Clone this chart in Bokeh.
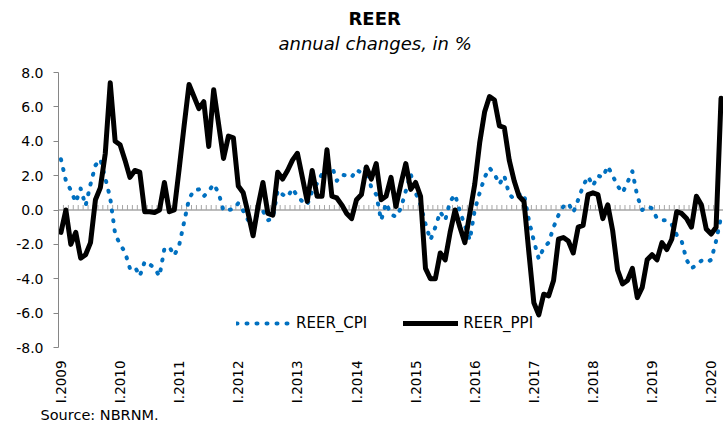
import math
from bokeh.plotting import figure
from bokeh.models import (Range1d, FixedTicker, PrintfTickFormatter, Span, Title,
                          Legend, LegendItem)
from bokeh.embed import file_html
from bokeh.resources import INLINE

# ---- data (monthly, I.2009 ... III.2020) ----
years = list(range(2009, 2021))
tick_labels = ["I." + str(y) for y in years]
y_ticks = [-8, -6, -4, -2, 0, 2, 4, 6, 8]

reer_cpi = [
    2.95, 1.7, 1.15, 0.45, 1.25, 0.25, 1.5, 2.6, 2.95, 1.85, 0.7, -1.4,
    -2.0, -2.45, -3.4, -3.3, -3.85, -3.0, -3.15, -3.4, -3.85, -2.25, -2.15, -2.65,
    -2.05, -0.7, 0.65, 1.15, 1.2, 0.8, 1.1, 1.5, 1.0, -0.05, 0.0, 0.05,
    0.4, -0.05, -0.6, -0.5, -0.3, -0.05, -0.6, -0.5, 1.15, 0.9, 0.75, 1.25,
    0.8, 0.5, 0.3, 1.1, 1.55, 2.1, 2.3, 2.55, 1.7, 2.05, 2.0, 1.9,
    2.35, 2.15, 2.5, 1.3, 0.9, -0.6, 0.4, -0.25, -0.4, 0.1, 1.1, 2.1,
    1.0, 0.3, -0.8, -1.75, -1.0, -0.1, -0.6, 0.5, 0.9, -0.1, -0.9, -1.75,
    0.0, 1.0, 1.9, 2.45, 2.1, 1.5, 2.0, 0.9, 0.65, 0.9, 0.95, -0.6,
    -1.8, -2.85, -2.2, -1.9, -1.0, -0.3, 0.2, 0.4, -0.15, 0.6, 1.4, 1.95,
    1.4, 2.0, 1.9, 2.55, 2.0, 1.4, 1.0, 1.6, 2.25, 0.8, 0.0, 0.2,
    0.1, -0.5, -0.6, -0.6, -0.85, -1.45, -1.8, -2.9, -3.4, -3.2, -2.95, -3.05,
    -2.9, -1.8, -0.4,
]

reer_ppi = [
    -1.3, 0.0, -2.0, -1.3, -2.8, -2.6, -1.9, 0.6, 1.3, 3.3, 7.4, 4.0,
    3.8, 2.9, 1.9, 2.3, 2.2, -0.1, -0.1, -0.15, 0.0, 1.6, -0.1, 0.0,
    2.4, 4.9, 7.3, 6.6, 5.9, 6.3, 3.7, 7.0, 5.0, 3.0, 4.3, 4.2,
    1.4, 1.0, -0.2, -1.5, 0.2, 1.6, -0.2, -0.3, 2.2, 1.8, 2.3, 2.9,
    3.3, 1.9, 0.5, 2.3, 0.8, 0.8, 3.5, 0.8, 0.7, 0.3, -0.2, -0.5,
    0.6, 0.9, 2.5, 1.8, 2.7, 0.6, 0.8, 1.9, 0.2, 1.5, 2.7, 1.2,
    1.6, 0.8, -3.4, -4.0, -4.0, -2.5, -2.9, -1.3, 0.0, -1.0, -1.9, -0.2,
    1.5, 3.9, 5.7, 6.6, 6.4, 4.9, 4.8, 2.9, 1.7, 0.8, 0.5, -2.5,
    -5.4, -6.1, -4.9, -5.0, -4.1, -1.7, -1.6, -1.8, -2.5, -1.0, -0.9, 0.9,
    1.0, 0.9, -0.5, 0.3, -1.2, -3.5, -4.3, -4.1, -3.4, -5.1, -4.5, -2.9,
    -2.6, -2.9, -1.9, -2.3, -1.7, -0.1, -0.2, -0.5, -1.0, 0.8, 0.3, -1.1,
    -1.4, -1.0, 6.5,
]

n = len(reer_ppi)
month_idx = list(range(n))
tick_pos = [12 * k for k in range(len(years))]
boundaries = [i + 0.5 for i in month_idx[:-1]]

FONT = "DejaVu Sans"

p = figure(width=723, height=424, output_backend="svg", toolbar_location=None,
           title=None,
           x_range=Range1d(-0.5, n - 0.5), y_range=Range1d(y_ticks[0], y_ticks[-1]),
           min_border_left=58, min_border_right=0, min_border_top=72, min_border_bottom=76)
p.outline_line_color = None
p.xgrid.grid_line_color = None
p.ygrid.grid_line_color = None
p.background_fill_color = "white"
p.border_fill_color = "white"

# zero line with monthly tick marks
p.add_layout(Span(location=0, dimension="width", line_color="#A6A6A6",
                  line_width=1.5, level="underlay"))
p.segment(x0=boundaries, y0=[0] * len(boundaries), x1=boundaries,
          y1=[0.29] * len(boundaries), line_color="#A6A6A6", line_width=1)

r_cpi = p.line(month_idx, reer_cpi, line_color="#0070C0", line_width=4,
               line_dash="1 9", line_cap="round", line_join="round")
r_ppi = p.line(month_idx, reer_ppi, line_color="black", line_width=5,
               line_cap="round", line_join="round")

# y axis
p.yaxis.ticker = FixedTicker(ticks=y_ticks)
p.yaxis.formatter = PrintfTickFormatter(format="%.1f")
p.yaxis.major_tick_out = 5
p.yaxis.major_tick_in = 0
p.yaxis.minor_tick_out = 0
p.yaxis.minor_tick_in = 0
p.yaxis.axis_line_color = "#868686"
p.yaxis.major_tick_line_color = "#868686"
p.yaxis.major_label_standoff = 10
p.yaxis.major_label_text_font = FONT
p.yaxis.major_label_text_font_size = "14px"
p.yaxis.major_label_text_color = "black"

# x axis
p.xaxis.ticker = FixedTicker(ticks=tick_pos)
p.xaxis.major_label_overrides = {pos: lab for pos, lab in zip(tick_pos, tick_labels)}
p.xaxis.major_label_orientation = math.pi / 2
p.xaxis.axis_line_color = None
p.xaxis.major_tick_line_color = None
p.xaxis.minor_tick_line_color = None
p.xaxis.major_tick_out = 0
p.xaxis.major_tick_in = 0
p.xaxis.minor_tick_out = 0
p.xaxis.minor_tick_in = 0
p.xaxis.major_label_standoff = 13
p.xaxis.major_label_text_font = FONT
p.xaxis.major_label_text_font_size = "13.5px"
p.xaxis.major_label_text_color = "black"

legend = Legend(items=[LegendItem(label="REER_CPI", renderers=[r_cpi]),
                       LegendItem(label="REER_PPI", renderers=[r_ppi])],
                orientation="horizontal", location=(178, 15),
                glyph_width=55, glyph_height=14, label_height=14,
                label_standoff=5, spacing=36, padding=0, margin=0,
                border_line_color=None, background_fill_alpha=0,
                label_text_font=FONT, label_text_font_size="15px",
                label_text_color="black")
p.add_layout(legend)

# titles (stacked outward from the frame): spacer, subtitle, title
p.add_layout(Title(text=" ", text_font=FONT, text_font_size="10px", standoff=6), "above")
p.add_layout(Title(text="annual changes, in %", align="left", offset=220,
                   vertical_align="bottom", standoff=0, text_font=FONT,
                   text_font_size="18px", text_font_style="italic",
                   text_color="black"), "above")
p.add_layout(Title(text="REER", align="left", offset=290, vertical_align="bottom",
                   standoff=4, text_font=FONT, text_font_size="18px",
                   text_font_style="bold", text_color="black"), "above")
p.add_layout(Title(text="Source: NBRNM.", align="left", offset=-18, vertical_align="top",
                   standoff=0, text_font=FONT, text_font_size="14.5px",
                   text_font_style="normal", text_color="black"), "below")

open("out.html", "w").write(file_html(p, INLINE))
